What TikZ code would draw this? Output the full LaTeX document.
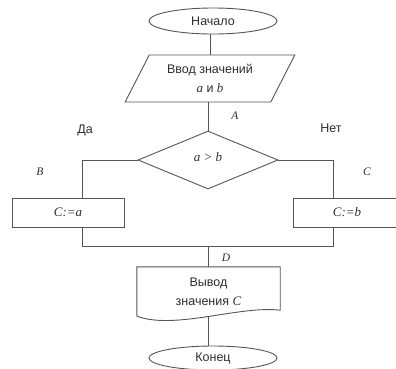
\documentclass[tikz,border=0pt]{standalone}
\usepackage{fontspec}
\setmainfont{Liberation Sans}
\newfontfamily\serifit{Liberation Serif}[ItalicFont=* Italic]
\usetikzlibrary{shapes.geometric}
\newcommand{\vv}[1]{{\serifit\itshape\fontsize{13}{19}\selectfont #1}}
\newcommand{\ptlbl}[1]{{\serifit\itshape #1}}
\definecolor{lineclr}{HTML}{555555}
\definecolor{txtclr}{HTML}{2E2E2E}
\tikzset{
  every node/.style={text=txtclr,font=\fontsize{12.5}{19}\selectfont},
  terminal/.style={ellipse,draw=lineclr,line width=0.9pt,minimum width=128pt,minimum height=26pt,inner sep=0pt},
  io/.style={trapezium,trapezium left angle=59,trapezium right angle=121,trapezium stretches=true,
    draw=lineclr,line width=0.9pt,minimum width=170pt,minimum height=47pt,inner sep=0pt,align=center},
  test/.style={diamond,draw=lineclr,line width=0.9pt,minimum width=140pt,minimum height=58pt,inner sep=0pt},
  action/.style={rectangle,draw=lineclr,line width=0.9pt,minimum height=29pt,inner sep=0pt},
  pointlbl/.style={font=\fontsize{11.5}{13}\selectfont},
  flow/.style={draw=lineclr,line width=0.9pt}
}
\begin{document}
\begin{tikzpicture}[x=1pt,y=-1pt]
  \useasboundingbox (0,0) rectangle (396,368);
  % blocks
  \node[terminal] (start) at (213,21) {Начало};
  \node[io] (in) at (210,78.5) {Ввод значений\\\vv{a} и \vv{b}};
  \node[test] (cmp) at (208,160) {\raisebox{6pt}{\vv{a > b}}};
  \node[action,minimum width=112pt] (yes) at (68,212.5) {\vv{C:=a}};
  \node[action,minimum width=108pt] (no) at (347,212.5) {\vv{C:=b}};
  \node[minimum width=143pt,minimum height=49pt,inner sep=0pt,align=center] (out) at (208.5,291.5)
    {\raisebox{4pt}{\parbox{140pt}{\centering Вывод\\значения \vv{C}}}};
  \node[terminal,minimum height=24pt] (stop) at (213,358) {Конец};
  % branch points
  \coordinate (jl) at (82,246);
  \coordinate (jr) at (333,246);
  % connectors
  \draw[flow] (in.north) -- (in.north |- start.south);
  \draw[flow] (cmp.north |- in.south) -- (cmp.north);
  \draw[flow] (cmp.west) -| (jl |- yes.north);
  \draw[flow] (cmp.east) -| (jr |- no.north);
  \draw[flow] (jl |- yes.south) -- (jl) -- (jr) -- (jr |- no.south);
  \draw[flow] (out.north |- jl) -- (out.north);
  \draw[flow] (out.south west) -- (out.north west) -- (out.north east) -- ([yshift=6pt]out.south east)
    .. controls ([xshift=-40pt,yshift=11pt]out.south east) and ([xshift=38pt,yshift=-14pt]out.south west) .. (out.south west);
  \draw[flow] (out.south) -- (out.south |- stop.north);
  % labels
  \node[pointlbl] (lblA) at (235,116) {\ptlbl{A}};
  \node (lblyes) at (85,130) {Да};
  \node (lblno) at (331,128) {Нет};
  \node[pointlbl] (lblB) at (40,172) {\ptlbl{B}};
  \node[pointlbl] (lblC) at (367,172) {\ptlbl{C}};
  \node[pointlbl] (lblD) at (226,258) {\ptlbl{D}};
\end{tikzpicture}
\end{document}
